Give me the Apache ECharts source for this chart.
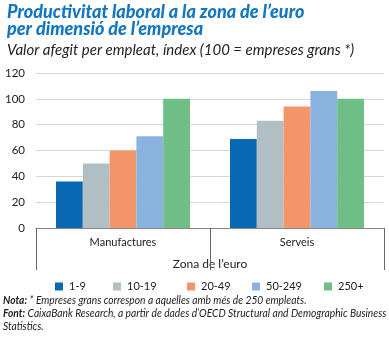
<!DOCTYPE html>
<html><head><meta charset="utf-8">
<script src="https://cdn.jsdelivr.net/npm/echarts@6/dist/echarts.min.js"></script>
<style>html,body{margin:0;padding:0;background:#fff}#c{width:389px;height:338px}</style>
</head><body><div id="c"></div>
<script>
const categories = ['Manufactures', 'Serveis'];
const seriesNames = ['1-9', '10-19', '20-49', '50-249', '250+'];
const s1_9 = [36, 69];
const s10_19 = [50, 83];
const s20_49 = [60, 94];
const s50_249 = [71, 106];
const s250 = [100, 100];
const yTicks = [0, 20, 40, 60, 80, 100, 120];

const values = [s1_9, s10_19, s20_49, s50_249, s250];
const colors = ['#0868b3', '#b1bfc4', '#f2966a', '#8ab2df', '#6fbe85'];
const legendLeft = [50, 108, 182, 247, 319];

const chart = echarts.init(document.getElementById('c'), null, {renderer: 'canvas'});
const txt = '#222';
const noteFont = 'Lato';
chart.setOption({
  animation: false,
  backgroundColor: '#fff',
  title: [
    {text: "Productivitat laboral a la zona de l\u2019euro\nper dimensió de l\u2019empresa", left: 2, top: -1,
     textStyle: {fontFamily: 'Lato', fontStyle: 'italic', fontWeight: 900, fontSize: 18, color: '#1577c1', lineHeight: 17}},
    {text: 'Valor afegit per empleat, índex (100 = empreses grans *)', left: 2, top: 38,
     textStyle: {fontFamily: 'Lato', fontStyle: 'italic', fontWeight: 'normal', fontSize: 15, color: '#222'}}
  ],
  graphic: [
    {type: 'text', x: 3, y: 294, scaleX: 0.93, scaleY: 1, silent: true,
     style: {text: '{b|Nota:} * Empreses grans correspon a aquelles amb més de 250 empleats.\n{b|Font:} CaixaBank Research, a partir de dades d\u2019OECD Structural and Demographic Business\nStatistics.',
       fontFamily: noteFont, fontStyle: 'italic', fontWeight: 'normal', fontSize: 11, fill: '#222', lineHeight: 13,
       rich: {b: {fontFamily: noteFont, fontStyle: 'italic', fontWeight: 'bold', fontSize: 11, fill: '#222', lineHeight: 13}}}}
  ],
  legend: seriesNames.map((n, i) => ({
    data: [n], left: legendLeft[i], top: 276, itemWidth: 8, itemHeight: 8, itemGap: 0,
    icon: 'rect', textStyle: {fontFamily: 'Lato', fontSize: 11, color: txt, padding: [0, 0, 0, 1]},
    selectedMode: false
  })),
  grid: {left: 36, right: 5, top: 73, bottom: 110},
  xAxis: {
    type: 'category', data: categories,
    axisLine: {show: true, lineStyle: {color: '#888', width: 1}},
    axisTick: {show: true, length: 42, lineStyle: {color: '#666'}},
    axisLabel: {fontFamily: 'Lato', fontSize: 11, color: txt, margin: 9},
    name: 'Zona de l\u2019euro', nameLocation: 'middle', nameGap: 30,
    nameTextStyle: {fontFamily: 'Lato', fontSize: 12, color: txt}
  },
  yAxis: {
    type: 'value', min: yTicks[0], max: yTicks[yTicks.length - 1], interval: 20,
    axisLine: {show: false}, axisTick: {show: false},
    axisLabel: {fontFamily: 'Lato', fontSize: 11.5, color: txt, margin: 11},
    splitLine: {lineStyle: {color: '#d6d6d6', width: 1}}
  },
  series: seriesNames.map((n, i) => ({
    name: n, type: 'bar', data: values[i], barGap: 0, barCategoryGap: '23%',
    itemStyle: {color: colors[i]}
  }))
});
</script></body></html>
